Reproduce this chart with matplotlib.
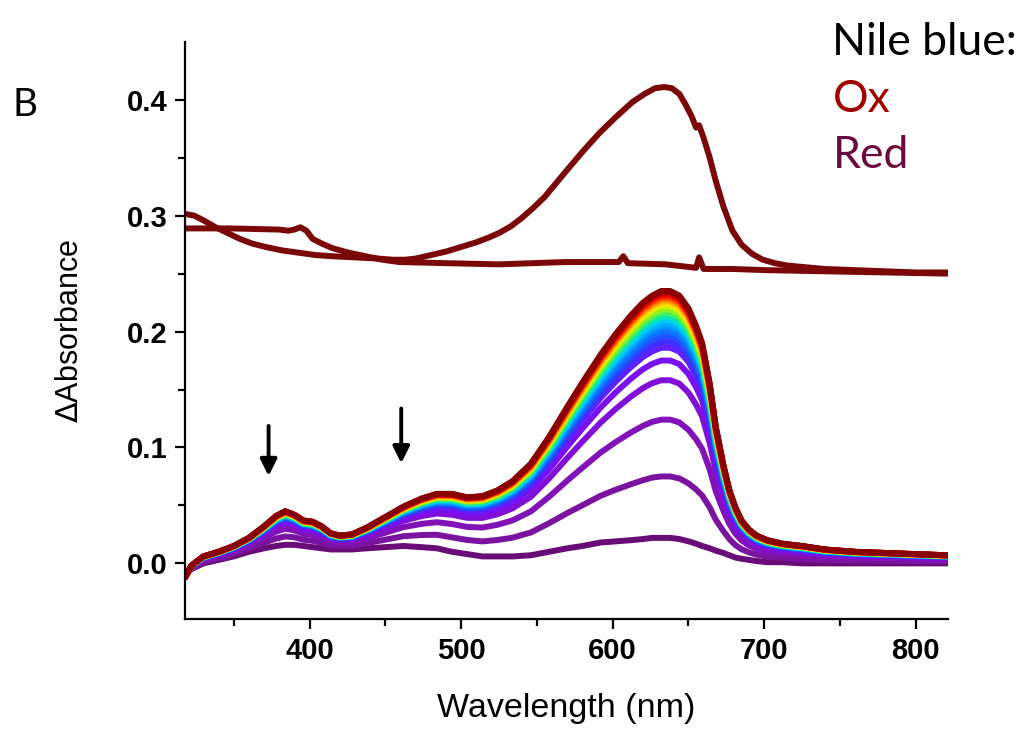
import numpy as np
import matplotlib.pyplot as plt

# wavelength grid (nm) for the titration spectra
wl = [318, 322, 330, 340, 350, 360, 370, 378, 384, 390, 396, 402, 408, 414, 420,
      428, 438, 450, 462, 474, 484, 494, 504, 514, 524, 534, 546, 558, 570, 580,
      592, 602, 612, 620, 626, 632, 638, 644, 650, 655, 659, 664, 668, 673, 677,
      681, 685, 690, 695, 702, 712, 725, 740, 760, 780, 800, 821]

# fully oxidised (last, dark red) spectrum of the series
final_spec = [-0.012, -0.002, 0.006, 0.010, 0.015, 0.022, 0.032, 0.041, 0.045, 0.042,
              0.037, 0.036, 0.032, 0.026, 0.024, 0.025, 0.031, 0.040, 0.049, 0.056,
              0.060, 0.060, 0.057, 0.058, 0.063, 0.071, 0.086, 0.109, 0.135, 0.156,
              0.180, 0.198, 0.214, 0.225, 0.231, 0.235, 0.235, 0.231, 0.220, 0.205,
              0.190, 0.155, 0.118, 0.085, 0.063, 0.048, 0.037, 0.029, 0.024, 0.020,
              0.017, 0.015, 0.012, 0.010, 0.009, 0.008, 0.007]

# first (reduced, dark purple) spectrum of the series
first_spec = [-0.010, -0.005, 0.000, 0.003, 0.006, 0.010, 0.013, 0.015, 0.016, 0.016,
              0.015, 0.014, 0.013, 0.012, 0.012, 0.012, 0.013, 0.014, 0.015, 0.014,
              0.013, 0.010, 0.008, 0.006, 0.006, 0.006, 0.007, 0.010, 0.013, 0.015,
              0.018, 0.019, 0.020, 0.021, 0.022, 0.022, 0.022, 0.021, 0.019, 0.017,
              0.015, 0.013, 0.011, 0.009, 0.007, 0.005, 0.004, 0.003, 0.002, 0.001,
              0.001, 0.000, 0.000, 0.000, 0.000, 0.000, 0.000]

# peak height (~632 nm) of each spectrum in the series, first to last
peak_heights = [0.022, 0.075, 0.124, 0.158, 0.175, 0.186, 0.191, 0.196, 0.200, 0.204,
                0.207, 0.210, 0.213, 0.216, 0.219, 0.222, 0.224, 0.226, 0.228, 0.230,
                0.232, 0.233, 0.234, 0.235]

series_colors = ['#6a0c78', '#7a14a0', '#8012b8', '#8010d8', '#7a10f0', '#6020ff',
                 '#4030ff', '#2050ff', '#1070ff', '#0090ff', '#00b0ff', '#00d0f0',
                 '#00e8b0', '#40f060', '#90f020', '#d0f000', '#ffe000', '#ffb000',
                 '#ff7000', '#ff3000', '#f00000', '#d00000', '#b00000', '#880000']

# Nile blue Ox reference spectra (offset)
ox_wl_a = [320, 324, 330, 338, 346, 354, 362, 371, 382, 393, 404, 415, 430, 445, 455,
           463, 470, 480, 490, 500, 510, 518, 525, 533, 540, 547, 555, 562, 569, 580,
           591, 602, 613, 621, 628, 634, 639, 644, 648, 652, 655, 657, 660, 664, 668,
           673, 679, 685, 692, 699, 707, 715, 723, 740, 760, 780, 800, 821]
ox_a = [0.301, 0.300, 0.296, 0.290, 0.285, 0.280, 0.276, 0.273, 0.270, 0.268, 0.266,
        0.265, 0.264, 0.263, 0.262, 0.262, 0.263, 0.266, 0.269, 0.273, 0.277, 0.281,
        0.285, 0.291, 0.298, 0.306, 0.316, 0.327, 0.338, 0.355, 0.371, 0.385, 0.398,
        0.405, 0.410, 0.411, 0.410, 0.405, 0.396, 0.386, 0.376, 0.378, 0.367, 0.350,
        0.330, 0.308, 0.287, 0.275, 0.267, 0.262, 0.259, 0.257, 0.256, 0.254, 0.253,
        0.252, 0.251, 0.251]

ox_wl_b = [320, 348, 380, 386, 390, 394, 398, 402, 408, 415, 426, 437, 448, 459, 490,
           525, 569, 604, 607, 610, 635, 655, 657, 660, 679, 701, 740, 780, 821]
ox_b = [0.289, 0.289, 0.288, 0.287, 0.288, 0.290, 0.287, 0.280, 0.276, 0.272, 0.268,
        0.265, 0.262, 0.260, 0.259, 0.258, 0.260, 0.260, 0.265, 0.259, 0.258, 0.255,
        0.264, 0.254, 0.254, 0.253, 0.252, 0.251, 0.250]

first = np.array(first_spec)
final = np.array(final_spec)
i_peak = wl.index(632)

fig = plt.figure(figsize=(10.29, 7.40), dpi=100)
ax = fig.add_axes([0.18, 0.1635, 0.741, 0.78])

lw = 4.3
for h, c in zip(peak_heights, series_colors):
    frac = (h - first[i_peak]) / (final[i_peak] - first[i_peak])
    ax.plot(wl, first + frac * (final - first), color=c, lw=lw,
            solid_joinstyle='round', solid_capstyle='round')

ox_color = '#7a0808'
ax.plot(ox_wl_a, ox_a, color=ox_color, lw=lw, solid_joinstyle='round')
ax.plot(ox_wl_b, ox_b, color=ox_color, lw=lw, solid_joinstyle='round')

# arrows marking the decreasing bands
for x0, y_top, y_tip in [(373, 0.121, 0.073), (460.5, 0.136, 0.084)]:
    ax.annotate('', xy=(x0, y_tip), xytext=(x0, y_top),
                arrowprops=dict(arrowstyle='-|>,head_width=0.5,head_length=1.0',
                                color='black', lw=2.8))

ax.set_xlim(318, 821)
ax.set_ylim(-0.048, 0.45)
ax.set_xticks([400, 500, 600, 700, 800])
ax.set_xticks([350, 450, 550, 650, 750], minor=True)
ax.set_yticks([0.0, 0.1, 0.2, 0.3, 0.4])
ax.set_yticks([-0.05 + 0.1 * k for k in range(1, 5)], minor=True)
ax.set_yticklabels(['0.0', '0.1', '0.2', '0.3', '0.4'])

for s in ['top', 'right']:
    ax.spines[s].set_visible(False)
for s in ['left', 'bottom']:
    ax.spines[s].set_linewidth(1.6)
ax.tick_params(which='major', direction='out', length=7, width=1.6, pad=6)
ax.tick_params(which='minor', direction='out', length=5, width=1.6)
for lab in ax.get_xticklabels() + ax.get_yticklabels():
    lab.set_fontfamily('Liberation Sans')
    lab.set_fontweight('bold')
    lab.set_fontsize(21)

ax.set_xlabel('Wavelength (nm)', fontsize=24.5, family='Liberation Sans', labelpad=20)
ax.set_ylabel('$\\Delta$Absorbance', fontsize=22, family='Liberation Sans', labelpad=30)

fig.text(0.012, 0.858, 'B', fontsize=28, family='Lato', va='center')
fig.text(0.809, 0.943, 'Nile blue:', fontsize=32, family='Lato', va='center')
fig.text(0.809, 0.865, 'Ox', fontsize=32, family='Lato', va='center', color='#a00000')
fig.text(0.809, 0.790, 'Red', fontsize=32, family='Lato', va='center', color='#6a0a3a')

fig.savefig('out.png', dpi=100)
